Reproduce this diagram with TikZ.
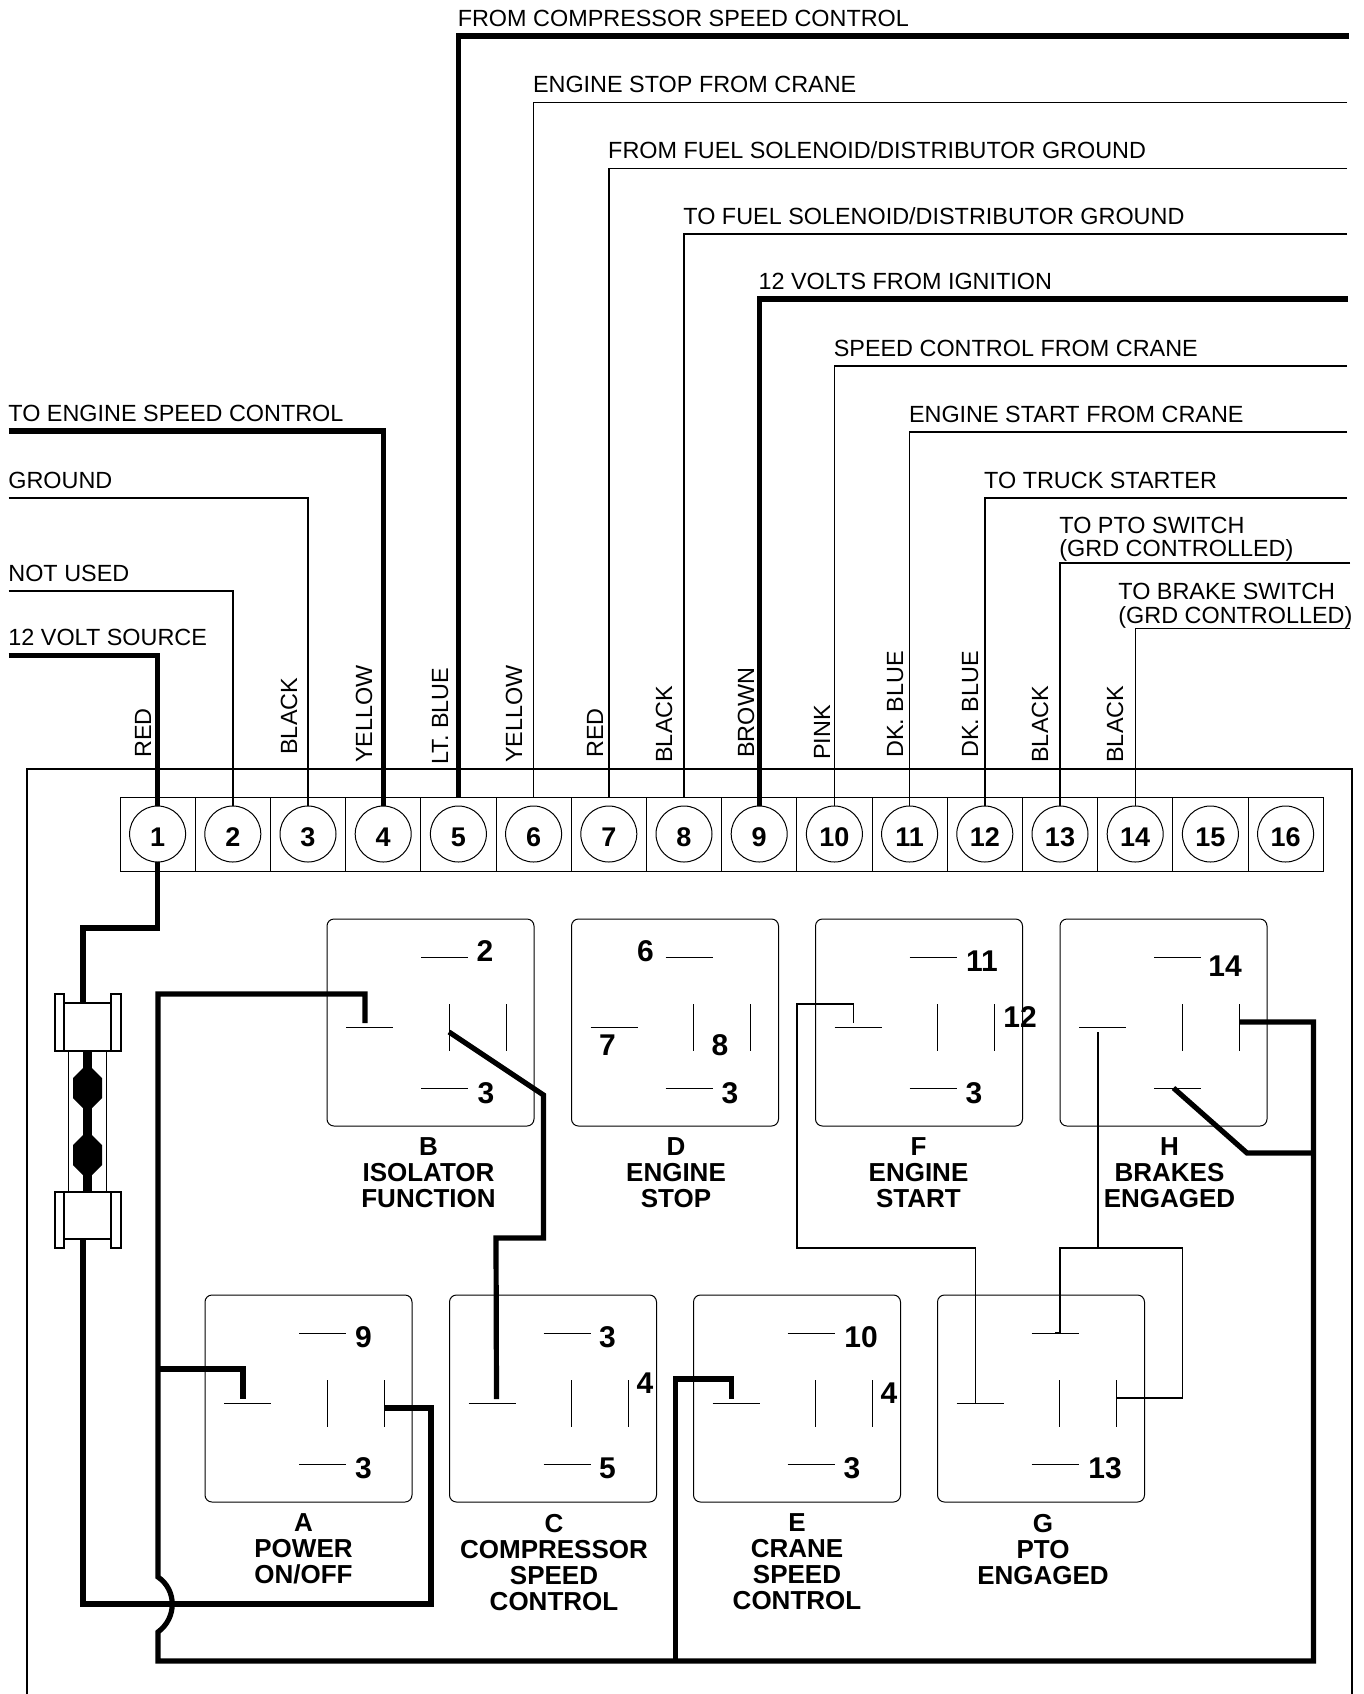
\documentclass[tikz,border=0pt]{standalone}
\usepackage{fontspec}
\setmainfont{Liberation Sans}
\usepackage{tikz}
\begin{document}
\begin{tikzpicture}[x=0.5pt,y=-0.5pt,
    thinwire/.style={line width=0.7pt},
    thickwire/.style={line width=2.6pt,line join=miter},
    tick/.style={line width=0.5pt},
    cell/.style={draw,line width=0.5pt,minimum width=37.6pt,minimum height=37pt,inner sep=0pt,outer sep=0pt},
    terminal/.style={draw,circle,fill=white,line width=0.5pt,minimum size=28pt,inner sep=0pt,outer sep=0pt,font=\fontsize{13.5}{13.5}\selectfont\bfseries},
    relay/.style={draw,line width=0.5pt,rounded corners=3.5pt,minimum size=103.5pt,inner sep=0pt,outer sep=0pt},
    wirelabel/.style={inner sep=0pt,anchor=base west,font=\fontsize{11.7}{13}\selectfont},
    colourlabel/.style={inner sep=0pt,anchor=base west,rotate=90,font=\fontsize{11.7}{13}\selectfont},
    pinlabel/.style={inner sep=0pt,font=\fontsize{15}{15}\selectfont\bfseries},
    relaytitle/.style={inner sep=0pt,anchor=north,align=center,font=\fontsize{13}{13}\selectfont\bfseries}]
\useasboundingbox (0,0) rectangle (1364,1694);

\draw[thinwire] (27,1694) |- (1352,769) -- (1352,1694);

\foreach \n in {1,...,16} {%
    \node (cell\n) at ({157.6+75.2*(\n-1)},834) [cell] {};
    \node (t\n) at (cell\n.center) [terminal] {\raisebox{-1.35pt}[9.7pt][0pt]{\n}};
}

\foreach \name/\x/\y in {A/205/1295,B/327/919,C/449.5/1295,D/571.5/919,E/693.5/1295,F/815.5/919,G/937.5/1295,H/1060/919} {%
    \node (\name) at (\x+103.5,\y+103.5) [relay] {};
    \coordinate (\name l) at (\x+38,\y+104);
    \coordinate (\name m) at (\x+122,\y+113);
    \coordinate (\name r) at (\x+179,\y+108);
    \coordinate (\name t) at (\x+117.5,\y+38);
    \coordinate (\name b) at (\x+117.5,\y+169);
    \draw[tick] (\x+94,\y+38) -- (\x+141,\y+38);
    \draw[tick] (\x+94,\y+169) -- (\x+141,\y+169);
    \draw[tick] (\x+19,\y+108) -- (\x+66,\y+108);
    \draw[tick] (\x+122,\y+85) -- (\x+122,\y+132);
    \draw[tick] (\x+179,\y+85) -- (\x+179,\y+132);
}

\foreach \n/\y/\xr/\wire/\stop/\txt in {%
    5/36/1349/thickwire/cell5/FROM COMPRESSOR SPEED CONTROL,
    6/102.5/1347/thinwire/cell6/ENGINE STOP FROM CRANE,
    7/168.5/1347/thinwire/cell7/{FROM FUEL SOLENOID/DISTRIBUTOR GROUND},
    8/234/1347/thinwire/cell8/{TO FUEL SOLENOID/DISTRIBUTOR GROUND},
    9/299/1348/thickwire/t9/12 VOLTS FROM IGNITION,
    10/366/1347/thinwire/t10/SPEED CONTROL FROM CRANE,
    11/432/1347/thinwire/t11/ENGINE START FROM CRANE,
    12/498/1347/thinwire/t12/TO TRUCK STARTER} {%
    \coordinate (w\n) at (\xr,\y);
    \draw[\wire] (w\n) -| (\stop.north);
    \node (lab\n) at ([xshift=-0.5pt]\stop.north |- 0,\y-10) [wirelabel] {\txt};
}

\coordinate (w13) at (1350,563);
\coordinate (w14) at (1350,628.5);
\draw[thinwire] (w13) -| (t13.north);
\draw[thinwire] (w14) -| (t14.north);
\node (lab13a) at (1059,533) [wirelabel] {TO PTO SWITCH};
\node (lab13b) at (1059,556) [wirelabel] {(GRD CONTROLLED)};
\node (lab14a) at (1118,599) [wirelabel] {TO BRAKE SWITCH};
\node (lab14b) at (1118,623) [wirelabel] {(GRD CONTROLLED)};

\foreach \n/\y/\wire/\txt in {%
    4/431/thickwire/TO ENGINE SPEED CONTROL,
    3/498/thinwire/GROUND,
    2/591/thinwire/NOT USED,
    1/655.5/thickwire/12 VOLT SOURCE} {%
    \coordinate (w\n) at (8.5,\y);
    \draw[\wire] (w\n) -| (t\n.north);
    \node (lab\n) at (8,\y-10) [wirelabel] {\txt};
}

\foreach \x/\y/\txt [count=\i] in {%
    151/758/RED,297/755/BLACK,372/763/YELLOW,448/765/LT. BLUE,
    522/763/YELLOW,603/758/RED,672/763/BLACK,754/758/BROWN,
    830/760/PINK,903/758/DK. BLUE,978/758/DK. BLUE,1048/763/BLACK,1123/763/BLACK} {%
    \node (col\i) at (\x,\y) [colourlabel] {\txt};
}

\foreach \x/\y/\txt [count=\i] in {%
    485/951/2,486/1093/3,645.5/951/6,607.5/1045/7,720/1045/8,730/1093/3,
    982/961/11,1020/1017/12,974/1093/3,1225/966.5/14,
    363.5/1337/9,363.5/1468/3,607.5/1337/3,645/1383/4,607.5/1468/5,
    861/1337/10,889/1393/4,852/1468/3,1105/1468/13} {%
    \node (pin\i) at (\x,\y) [pinlabel] {\txt};
}

\foreach \name/\x/\y/\txt in {%
    B/428.5/1137.5/{B\\ISOLATOR\\FUNCTION},
    D/676/1137.5/{D\\ENGINE\\STOP},
    F/918.5/1137.5/{F\\ENGINE\\START},
    H/1169.5/1137.5/{H\\BRAKES\\ENGAGED},
    A/303.5/1513.5/{A\\POWER\\ON/OFF},
    C/554/1513.5/{C\\COMPRESSOR\\SPEED\\CONTROL},
    E/797/1513.5/{E\\CRANE\\SPEED\\CONTROL},
    G/1043/1513.5/{G\\PTO\\ENGAGED}} {%
    \node (title\name) at (\x,\y) [relaytitle] {\txt};
}

\draw[thinwire] (55,994) rectangle (64,1051);
\draw[thinwire] (111,994) rectangle (121,1051);
\draw[thinwire] (64,1003) rectangle (111,1051);
\draw[thinwire] (55,1192) rectangle (64,1248);
\draw[thinwire] (111,1192) rectangle (121,1248);
\draw[thinwire] (64,1192) rectangle (111,1239);
\draw[thinwire] (68.5,1051) rectangle (106.5,1192);
\fill (83,1051) rectangle (92,1192);
\foreach \y in {1068,1135} {%
    \fill (83,\y) -- (92,\y) -- (102,\y+10) -- (102,\y+30) -- (92,\y+40)
        -- (83,\y+40) -- (73,\y+30) -- (73,\y+10) -- cycle;
}

\coordinate (fusein) at (83,1003);
\coordinate (fuseout) at (83,1239);
\coordinate (bump1) at (158,1577);
\coordinate (bump2) at (158,1632);
\coordinate (groundcorner) at (158,1661);
\coordinate (groundright) at (1313.5,1661);
\coordinate (tapA) at (158,1369);
\coordinate (tapE) at (675.5,1661);
\coordinate (tapH) at (1313.5,1153);

\draw[thickwire] (t1.south) |- (fusein |- 0,928) -- (fusein);
\draw[thickwire] (fuseout) |- (431,1604) |- ([yshift=-2.5pt]Ar);
\draw[thickwire] (Bl) |- (158,994) -- (bump1)
    .. controls (177,1590) and (177,1618) .. (bump2)
    -- (groundcorner) -- (groundright) |- ([yshift=2.5pt]Hr);
\draw[thickwire] (tapA) -| (Al);
\draw[thickwire] (Bm) -- (543.5,1095) |- (496,1238) -- ([xshift=4.5pt]Cl);
\draw[thickwire] (tapE) |- (731.5,1379) -- (El);
\draw[thickwire] (tapH) -- (1247,1153) -- ([xshift=-2pt]Hb);

\draw[thinwire] (Fl) |- (797,1004) |- (Gl |- 0,1248) -- ([yshift=-2pt]Gl);
\draw[thinwire] (1098,1032) -- (1098,1248);
\draw[thinwire] (Gt) -| (1060,1248) -| (1182.5,1398) -- ([yshift=2.5pt]Gr);
\end{tikzpicture}
\end{document}
